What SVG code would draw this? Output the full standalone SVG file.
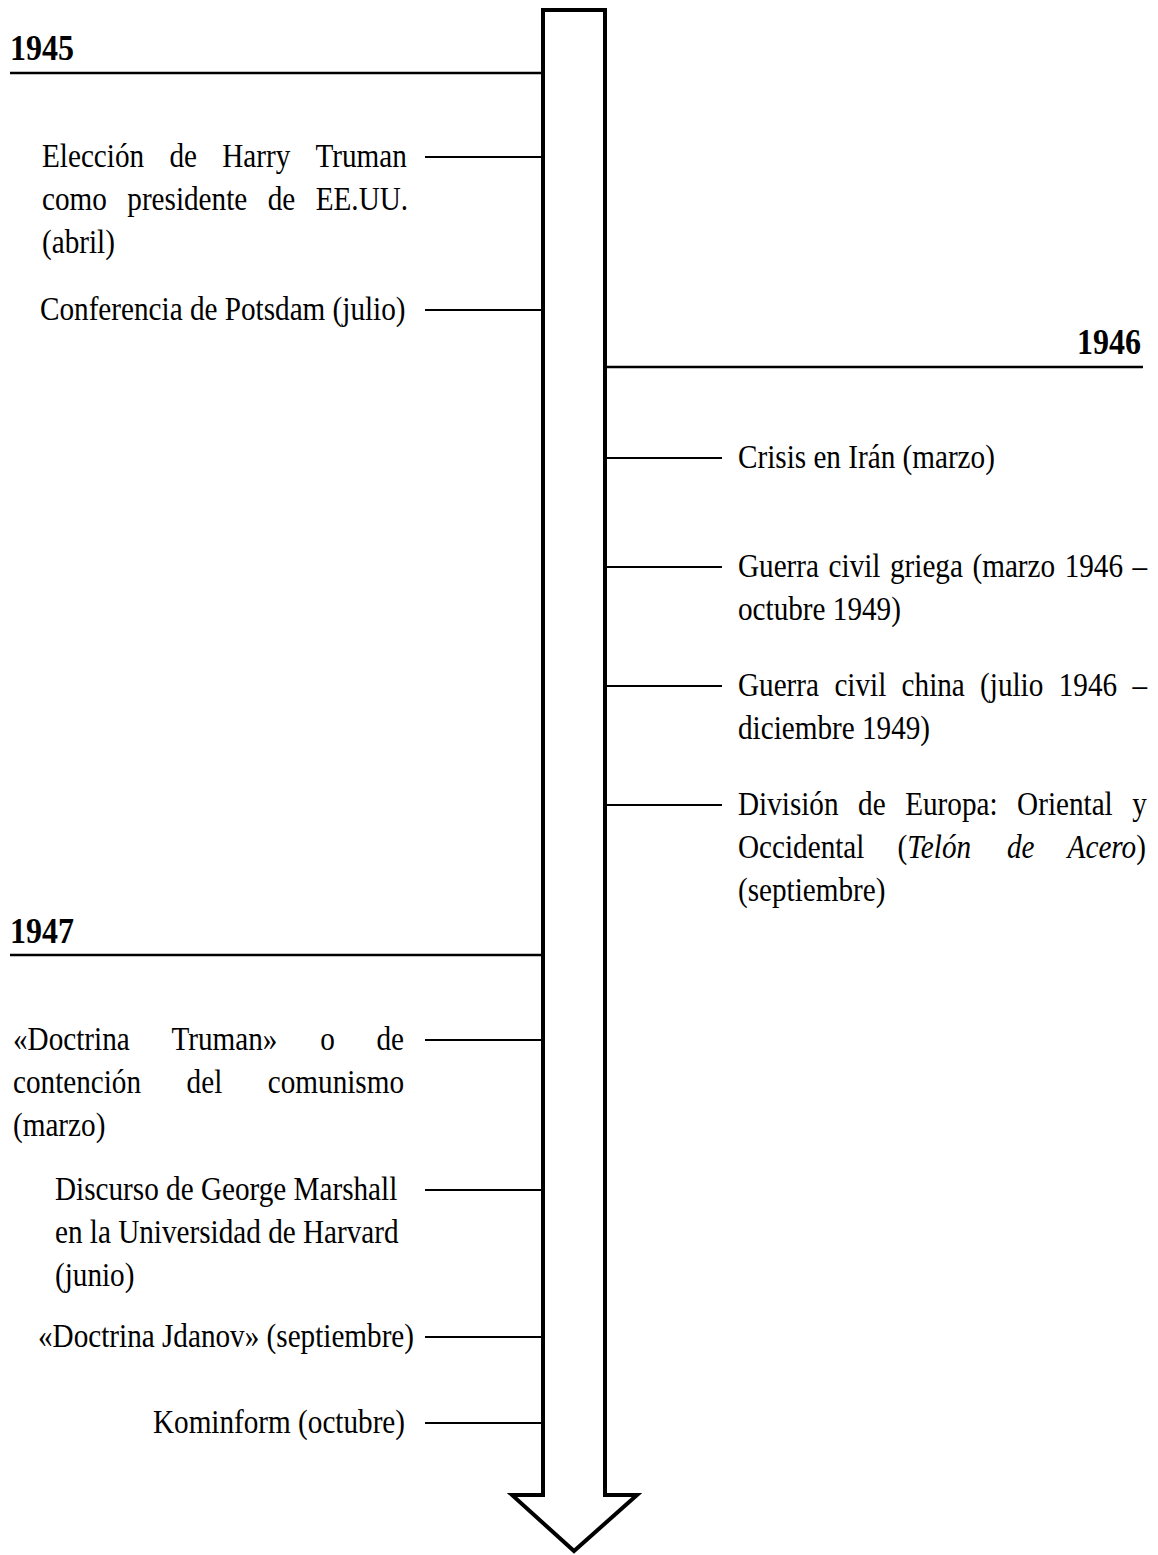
<svg xmlns="http://www.w3.org/2000/svg" width="1158" height="1555" viewBox="0 0 1158 1555">
  <style>
    text { font-family: "Liberation Serif", "Times New Roman", serif; font-size: 29.2px; fill: #000; }
    .year { font-weight: bold; font-size: 32px; }
    .it { font-style: italic; }
    .yearline { stroke: #000; stroke-width: 2.5; fill: none; }
    .tick { stroke: #000; stroke-width: 2; fill: none; }
    .shaft { stroke: #000; stroke-width: 4; fill: #fff; stroke-linejoin: miter; stroke-miterlimit: 10; }
  </style>
  <rect width="1158" height="1555" fill="#fff"/>

  <!-- timeline arrow -->
  <g id="timeline-arrow">
    <polygon class="shaft" points="543,10 605,10 605,1495 637,1495 574,1551 512,1495 543,1495"/>
  </g>

  <!-- connectors: year rules and event ticks -->
  <g id="connectors">
    <line class="yearline" x1="10" y1="73" x2="543" y2="73"/>
    <line class="yearline" x1="605" y1="367" x2="1143" y2="367"/>
    <line class="yearline" x1="10" y1="955" x2="543" y2="955"/>

    <line class="tick" x1="425" y1="157" x2="543" y2="157"/>
    <line class="tick" x1="425" y1="310" x2="543" y2="310"/>
    <line class="tick" x1="605" y1="458" x2="722" y2="458"/>
    <line class="tick" x1="605" y1="567" x2="722" y2="567"/>
    <line class="tick" x1="605" y1="686" x2="722" y2="686"/>
    <line class="tick" x1="605" y1="805" x2="722" y2="805"/>
    <line class="tick" x1="425" y1="1040" x2="543" y2="1040"/>
    <line class="tick" x1="425" y1="1190" x2="543" y2="1190"/>
    <line class="tick" x1="425" y1="1337" x2="543" y2="1337"/>
    <line class="tick" x1="425" y1="1423" x2="543" y2="1423"/>
  </g>

  <!-- labels use a tall serif face: each label group is stretched 1.13x vertically -->

  <!-- year headings -->
  <g id="year-1945" transform="scale(1 1.13)"><text class="year" x="10" y="53.1">1945</text></g>
  <g id="year-1946" transform="scale(1 1.13)"><text class="year" x="1141" y="313.27" text-anchor="end">1946</text></g>
  <g id="year-1947" transform="scale(1 1.13)"><text class="year" x="10" y="834.51">1947</text></g>

  <!-- 1945 events -->
  <g id="ev-truman" transform="scale(1 1.13)">
    <text y="147.79"><tspan x="42">Elección</tspan><tspan x="169.4">de</tspan><tspan x="222.2">Harry</tspan><tspan x="315.5">Truman</tspan></text>
    <text y="185.84"><tspan x="42">como</tspan><tspan x="127.3">presidente</tspan><tspan x="267.7">de</tspan><tspan x="315.7">EE.UU.</tspan></text>
    <text x="42" y="223.89">(abril)</text>
  </g>
  <g id="ev-potsdam" transform="scale(1 1.13)">
    <text x="40" y="283.19">Conferencia de Potsdam (julio)</text>
  </g>

  <!-- 1946 events -->
  <g id="ev-iran" transform="scale(1 1.13)">
    <text x="738" y="414.16">Crisis en Irán (marzo)</text>
  </g>
  <g id="ev-grecia" transform="scale(1 1.13)">
    <text y="510.62"><tspan x="738">Guerra</tspan><tspan x="828.6">civil</tspan><tspan x="890">griega</tspan><tspan x="972.5">(marzo</tspan><tspan x="1064.7">1946</tspan><tspan x="1132.6">–</tspan></text>
    <text x="738" y="548.67">octubre 1949)</text>
  </g>
  <g id="ev-china" transform="scale(1 1.13)">
    <text y="615.93"><tspan x="738">Guerra</tspan><tspan x="834.4">civil</tspan><tspan x="901.6">china</tspan><tspan x="980.1">(julio</tspan><tspan x="1058.7">1946</tspan><tspan x="1132.4">–</tspan></text>
    <text x="738" y="653.98">diciembre 1949)</text>
  </g>
  <g id="ev-europa" transform="scale(1 1.13)">
    <text y="721.24"><tspan x="738">División</tspan><tspan x="858.1">de</tspan><tspan x="905.2">Europa:</tspan><tspan x="1017.1">Oriental</tspan><tspan x="1132.3">y</tspan></text>
    <text y="759.29"><tspan x="738">Occidental</tspan><tspan x="897.6">(<tspan class="it">Telón</tspan></tspan><tspan class="it" x="1006.9">de</tspan><tspan x="1067.6"><tspan class="it">Acero</tspan>)</tspan></text>
    <text x="738" y="797.35">(septiembre)</text>
  </g>

  <!-- 1947 events -->
  <g id="ev-doctrina-truman" transform="scale(1 1.13)">
    <text y="929.2"><tspan x="13">«Doctrina</tspan><tspan x="171.5">Truman»</tspan><tspan x="320.2">o</tspan><tspan x="376.5">de</tspan></text>
    <text y="967.26"><tspan x="13">contención</tspan><tspan x="186.6">del</tspan><tspan x="267.8">comunismo</tspan></text>
    <text x="13" y="1005.31">(marzo)</text>
  </g>
  <g id="ev-marshall" transform="scale(1 1.13)">
    <text x="55" y="1061.95">Discurso de George Marshall</text>
    <text x="55" y="1100">en la Universidad de Harvard</text>
    <text x="55" y="1138.05">(junio)</text>
  </g>
  <g id="ev-jdanov" transform="scale(1 1.13)">
    <text x="38" y="1192.04">«Doctrina Jdanov» (septiembre)</text>
  </g>
  <g id="ev-kominform" transform="scale(1 1.13)">
    <text x="153" y="1268.14">Kominform (octubre)</text>
  </g>
</svg>
